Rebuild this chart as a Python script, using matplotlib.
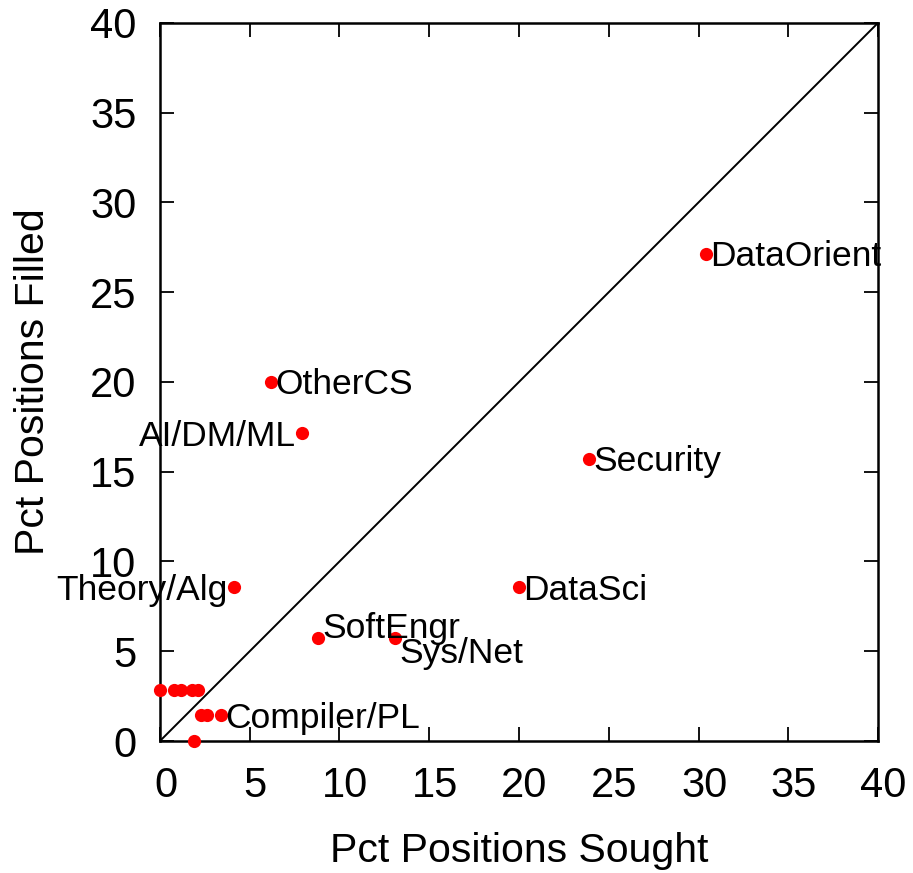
import matplotlib
matplotlib.use("Agg")
import matplotlib.pyplot as plt
import matplotlib.transforms as mtransforms

plt.rcParams['font.family'] = ['Liberation Sans', 'DejaVu Sans']

# labelled research areas
areas = ["DataOrient", "Security", "DataSci", "Sys/Net", "SoftEngr",
         "AI/DM/ML", "OtherCS", "Theory/Alg", "Compiler/PL"]
area_sought = [30.4, 23.9, 20.0, 13.1, 8.8, 7.9, 6.2, 4.1, 3.4]
area_filled = [27.14, 15.71, 8.57, 5.71, 5.71, 17.14, 20.0, 8.57, 1.43]

# small areas drawn without a label
other_sought = [0.0, 0.8, 1.2, 1.8, 2.1, 2.3, 2.6, 1.9]
other_filled = [2.86, 2.86, 2.86, 2.86, 2.86, 1.43, 1.43, 0.0]

# label placement: (dx, dy) in points, horizontal alignment
label_pos = {
    "DataOrient": (3, -9, "left"),
    "Security": (3, -9, "left"),
    "DataSci": (3, -9, "left"),
    "Sys/Net": (3, -18, "left"),
    "SoftEngr": (3, 0, "left"),
    "AI/DM/ML": (-4, -9, "right"),
    "OtherCS": (3, -9, "left"),
    "Theory/Alg": (-4, -9, "right"),
    "Compiler/PL": (3, -9, "left"),
}

fig = plt.figure(figsize=(9.13, 8.73), dpi=100)
ax = fig.add_axes([0.1752, 0.1512, 0.7865, 0.8226])

ax.plot([0, 40], [0, 40], color="black", lw=1.4, zorder=1)
ax.plot(area_sought + other_sought, area_filled + other_filled, "o",
        color="red", ms=9.5, mec="none", clip_on=False, zorder=3)

for name, x, y in zip(areas, area_sought, area_filled):
    dx, dy, ha = label_pos[name]
    ax.annotate(name, (x, y), xytext=(dx, dy), textcoords="offset points",
                ha=ha, va="baseline", fontsize=25.5, zorder=4)

ax.set_xlim(0, 40)
ax.set_ylim(0, 40)
ax.set_xticks(range(0, 41, 5))
ax.set_yticks(range(0, 41, 5))
ax.tick_params(direction="in", length=10, width=1.3, labelsize=30,
               top=True, right=True)
ax.tick_params(axis="x", pad=18)
ax.tick_params(axis="y", pad=17)
for s in ax.spines.values():
    s.set_linewidth(1.8)

# nudge x tick labels a little to the right
shift = mtransforms.ScaledTranslation(4 / 72, 0, fig.dpi_scale_trans)
for lbl in ax.get_xticklabels():
    lbl.set_transform(lbl.get_transform() + shift)

ax.set_xlabel("Pct Positions Sought", fontsize=29.5, labelpad=19)
ax.set_ylabel("Pct Positions Filled", fontsize=29.5, labelpad=27)

fig.savefig("out.png", dpi=100)
